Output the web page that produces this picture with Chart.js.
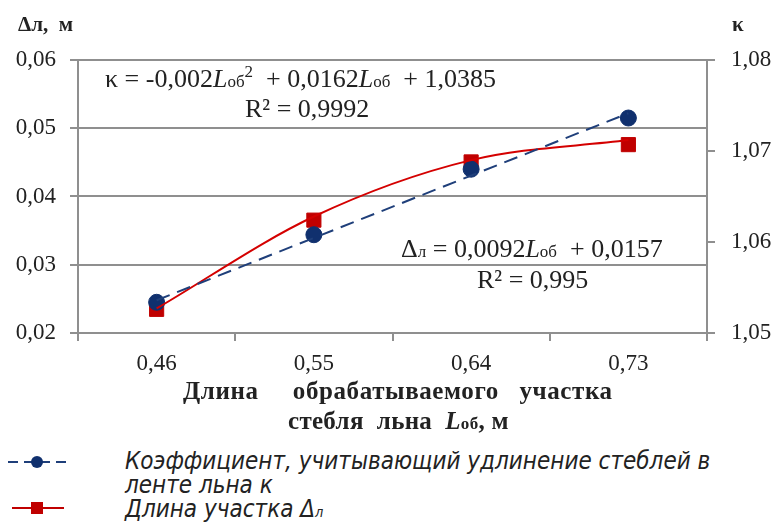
<!DOCTYPE html>
<html>
<head>
<meta charset="utf-8">
<script src="https://cdn.jsdelivr.net/npm/chart.js@4"></script>
<style>
  body { margin: 0; background: #fff; }
  #wrap { position: relative; width: 778px; height: 522px; overflow: hidden; }
  #chart { position: absolute; left: 0; top: 0; }
  .t { position: absolute; white-space: nowrap; color: #222; font-family: "Liberation Serif", "Times New Roman", serif; }
  .b { font-weight: bold; }
  .eq { font-size: 26px; }
  .lg { font-family: "Liberation Sans Narrow", "DejaVu Sans Condensed", "Liberation Sans", Arial, sans-serif; font-style: italic; font-size: 24px; color: #222; }
  sub.s { font-size: 60%; vertical-align: baseline; }
</style>
</head>
<body>
<div id="wrap">
  <canvas id="chart" width="778" height="380"></canvas>

  <div class="t b" style="left:18px; top:12px; font-size:21px;">Δл,&nbsp; м</div>
  <div class="t b" style="left:732px; top:12px; font-size:21px;">κ</div>

  <div class="t eq" style="left:105px; top:62px;">κ = -0,002<i>L</i><span style="font-size:17px">об</span><sup style="font-size:17px">2</sup>&nbsp; + 0,0162<i>L</i><span style="font-size:17px">об</span>&nbsp; + 1,0385</div>
  <div class="t eq" style="left:245px; top:94px;">R² = 0,9992</div>
  <div class="t eq" style="left:401px; top:234px;">Δ<span style="font-size:17px">л</span> = 0,0092<i>L</i><span style="font-size:17px">об</span>&nbsp; + 0,0157</div>
  <div class="t eq" style="left:477px; top:265px;">R² = 0,995</div>

  <div class="t b" style="left:183px; top:377px; font-size:25px; letter-spacing:0.6px;">Длина&nbsp;&nbsp;&nbsp;&nbsp; обрабатываемого&nbsp;&nbsp; участка</div>
  <div class="t b" style="left:288px; top:407px; font-size:25px; letter-spacing:0.3px;">стебля&nbsp; льна&nbsp; <i>L</i><span style="font-size:17px">об</span>, м</div>

  <svg style="position:absolute; left:0; top:445px;" width="120" height="77">
    <line x1="8" y1="17" x2="66" y2="17" stroke="#1f3f7a" stroke-width="2" stroke-dasharray="10,6"/>
    <circle cx="37" cy="17" r="6" fill="#10306e"/>
    <line x1="12" y1="63" x2="64" y2="63" stroke="#c00000" stroke-width="2"/>
    <rect x="31" y="57" width="12" height="12" fill="#c00000"/>
  </svg>
  <div class="t lg" style="left:125px; top:447px;">Коэффициент, учитывающий удлинение стеблей в</div>
  <div class="t lg" style="left:125px; top:471px;">ленте льна к</div>
  <div class="t lg" style="left:125px; top:495px;">Длина участка Δ<sub class="s">л</sub></div>
</div>

<script>
const lengths = ["0,46", "0,55", "0,64", "0,73"];
// blue series (left axis), points and dashed linear trend
const coefPoints = [0.0245, 0.0344, 0.044, 0.0515];
const coefTrend = [0.0248, null, null, 0.0522];
// red series (right axis), points and smooth trend curve
const lenPoints = [1.0526, 1.0624, 1.0688, 1.0707];
const lenTrend = [1.0527, 1.0628, 1.0690, 1.0712];
const leftTicks = [0.02, 0.03, 0.04, 0.05, 0.06];
const rightTicks = [1.05, 1.06, 1.07, 1.08];

const gridGrey = "#8f8f8f";
const tickFont = { family: "'Liberation Serif', 'Times New Roman', serif", size: 23 };

function fmt(v, d) {
  return v.toFixed(d).replace(".", ",");
}

new Chart(document.getElementById("chart").getContext("2d"), {
  type: "line",
  data: {
    labels: lengths,
    datasets: [
      {
        data: coefTrend,
        yAxisID: "y",
        borderColor: "#1f3f7a",
        borderWidth: 2,
        borderDash: [14, 8],
        pointRadius: 0,
        spanGaps: true,
        tension: 0,
      },
      {
        data: lenTrend,
        yAxisID: "y2",
        borderColor: "#d40000",
        borderWidth: 2,
        pointRadius: 0,
        cubicInterpolationMode: "monotone",
      },
      {
        data: coefPoints,
        yAxisID: "y",
        showLine: false,
        pointStyle: "circle",
        pointRadius: 8,
        pointBackgroundColor: "#10306e",
        pointBorderColor: "#10306e",
      },
      {
        data: lenPoints,
        yAxisID: "y2",
        showLine: false,
        pointStyle: "rect",
        pointRadius: 10,
        pointBackgroundColor: "#c00000",
        pointBorderColor: "#c00000",
      },
    ],
  },
  options: {
    responsive: false,
    animation: false,
    layout: { padding: { top: 60, left: 0, right: 0, bottom: 0 } },
    plugins: { legend: { display: false }, tooltip: { enabled: false } },
    scales: {
      x: {
        offset: true,
        grid: {
          offset: true,
          drawOnChartArea: false,
          drawTicks: true,
          tickLength: 8,
          color: gridGrey,
          lineWidth: 2,
        },
        border: { color: gridGrey, width: 2 },
        ticks: { font: tickFont, color: "#222", padding: 9, maxRotation: 0 },
        afterFit: (s) => { s.height = 47; },
      },
      y: {
        position: "left",
        min: 0.02,
        max: 0.06,
        afterBuildTicks: (s) => { s.ticks = leftTicks.map((v) => ({ value: v })); },
        grid: { color: gridGrey, lineWidth: 2, tickLength: 8 },
        border: { color: gridGrey, width: 2 },
        ticks: { font: tickFont, color: "#222", padding: 14, callback: (v) => fmt(v, 2) },
        afterFit: (s) => { s.width = 78; },
      },
      y2: {
        position: "right",
        min: 1.05,
        max: 1.08,
        afterBuildTicks: (s) => { s.ticks = rightTicks.map((v) => ({ value: v })); },
        grid: { drawOnChartArea: false, color: gridGrey, lineWidth: 2, tickLength: 8 },
        border: { color: gridGrey, width: 2 },
        ticks: { font: tickFont, color: "#222", padding: 16, callback: (v) => fmt(v, 2) },
        afterFit: (s) => { s.width = 71; },
      },
    },
  },
});
</script>
</body>
</html>
